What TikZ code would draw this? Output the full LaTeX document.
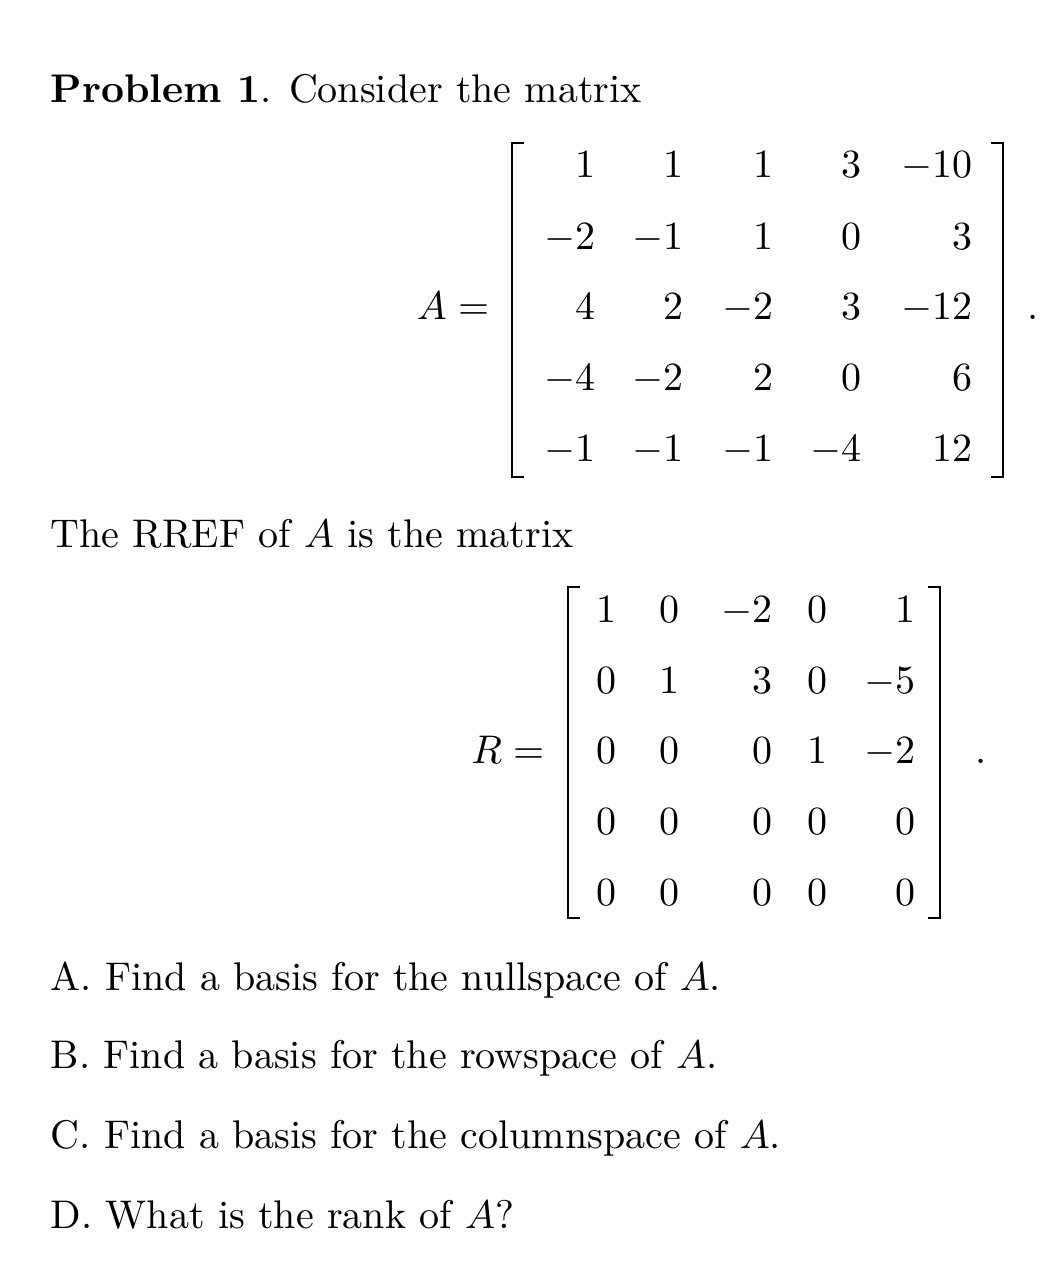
\documentclass[tikz,border=0pt]{standalone}
\begin{document}
\begin{tikzpicture}[x=0.25pt,y=-0.25pt,
  txt/.style={anchor=base west,inner sep=0pt},
  num/.style={anchor=base east,inner sep=0pt},
  brk/.style={line width=0.6pt}]
\useasboundingbox (0,0) rectangle (1053,1279);
\node[txt] (t1) at (50,102) {\textbf{Problem 1}. Consider the matrix};
\node[num] (aeq) at (490,319) {$A=$};
\foreach \r/\y in {1/177,2/249,3/319,4/390,5/461}{}
\foreach \v [count=\i] in {1,1,1,3,-10}{\pgfmathsetmacro\xx{{596,684,774,862,973}[\i-1]}\node[num] (a1\i) at (\xx,177) {$\v$};}
\foreach \v [count=\i] in {-2,-1,1,0,3}{\pgfmathsetmacro\xx{{596,684,774,862,973}[\i-1]}\node[num] (a2\i) at (\xx,249) {$\v$};}
\foreach \v [count=\i] in {4,2,-2,3,-12}{\pgfmathsetmacro\xx{{596,684,774,862,973}[\i-1]}\node[num] (a3\i) at (\xx,319) {$\v$};}
\foreach \v [count=\i] in {-4,-2,2,0,6}{\pgfmathsetmacro\xx{{596,684,774,862,973}[\i-1]}\node[num] (a4\i) at (\xx,390) {$\v$};}
\foreach \v [count=\i] in {-1,-1,-1,-4,12}{\pgfmathsetmacro\xx{{596,684,774,862,973}[\i-1]}\node[num] (a5\i) at (\xx,461) {$\v$};}
\draw[brk] (524,143) -- (512,143) -- (512,477) -- (524,477);
\draw[brk] (991,143) -- (1003,143) -- (1003,477) -- (991,477);
\node[txt] (ap) at (1027,319) {.};
\node[txt] (t2) at (50,547) {The RREF of $A$ is the matrix};
\node[num] (req) at (545,763) {$R=$};
\foreach \v [count=\i] in {1,0,-2,0,1}{\pgfmathsetmacro\xx{{617,680,773,828,916}[\i-1]}\node[num] (r1\i) at (\xx,622) {$\v$};}
\foreach \v [count=\i] in {0,1,3,0,-5}{\pgfmathsetmacro\xx{{617,680,773,828,916}[\i-1]}\node[num] (r2\i) at (\xx,693) {$\v$};}
\foreach \v [count=\i] in {0,0,0,1,-2}{\pgfmathsetmacro\xx{{617,680,773,828,916}[\i-1]}\node[num] (r3\i) at (\xx,763) {$\v$};}
\foreach \v [count=\i] in {0,0,0,0,0}{\pgfmathsetmacro\xx{{617,680,773,828,916}[\i-1]}\node[num] (r4\i) at (\xx,834) {$\v$};}
\foreach \v [count=\i] in {0,0,0,0,0}{\pgfmathsetmacro\xx{{617,680,773,828,916}[\i-1]}\node[num] (r5\i) at (\xx,905) {$\v$};}
\draw[brk] (580,587) -- (568,587) -- (568,918) -- (580,918);
\draw[brk] (928,587) -- (940,587) -- (940,918) -- (928,918);
\node[txt] (rp) at (975,763) {.};
\node[txt] (qa) at (50,990) {A. Find a basis for the nullspace of $A$.};
\node[txt] (qb) at (50,1068) {B. Find a basis for the rowspace of $A$.};
\node[txt] (qc) at (50,1148) {C. Find a basis for the columnspace of $A$.};
\node[txt] (qd) at (50,1228) {D. What is the rank of $A$?};
\end{tikzpicture}
\end{document}
